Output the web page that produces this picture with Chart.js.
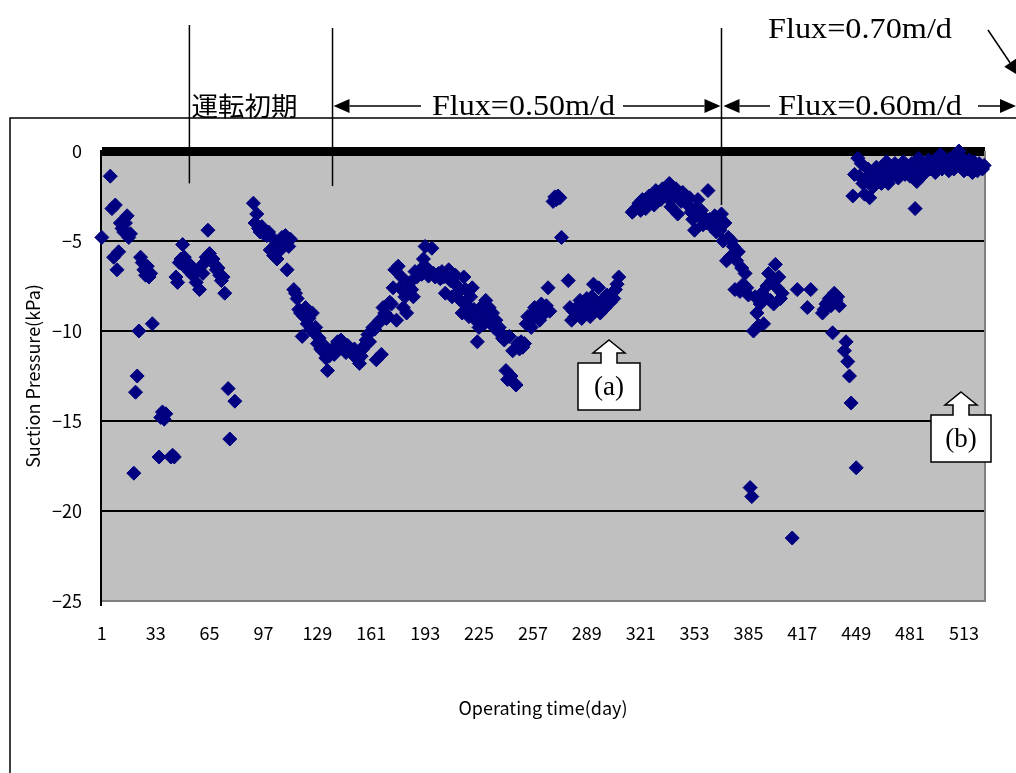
<!DOCTYPE html>
<html>
<head>
<meta charset="utf-8">
<script src="https://cdn.jsdelivr.net/npm/chart.js@4.4.0/dist/chart.umd.min.js"></script>
<style>
  body { margin: 0; background: #fff; }
  canvas { display: block; }
</style>
</head>
<body>
<canvas id="chart" width="1016" height="773"></canvas>
<script>
// 運転初期 (day 1 - 137)
const initialDays = [
    1, 6, 7, 8, 9, 10, 11, 12, 13, 14,
    15, 16, 17, 18, 20, 21, 22, 23, 24, 25,
    26, 27, 28, 29, 30, 31, 35, 36, 37, 38,
    39, 42, 43, 44, 45, 46, 47, 48, 49, 50,
    51, 52, 53, 54, 55, 56, 57, 59, 60, 61,
    62, 63, 64, 65, 66, 67, 68, 69, 70, 71,
    72, 73, 74, 76, 77, 80, 91, 92, 93, 94,
    95, 96, 97, 98, 99, 100, 101, 102, 103, 104,
    105, 106, 107, 108, 109, 110, 111, 112, 113, 115,
    116, 117, 118, 119, 120, 121, 122, 123, 124, 125,
    126, 127, 128, 129, 130, 131, 132, 133, 134, 135,
    136, 137
];
const initialKPa = [
    -4.8, -1.4, -3.2, -5.9, -3.0, -6.6, -5.6, -4.0, -4.3, -4.5,
    -4.0, -3.6, -4.8, -4.6, -17.9, -13.4, -12.5, -10.0, -5.9, -6.2,
    -6.6, -6.9, -6.4, -7.0, -6.8, -9.6, -17.0, -14.8, -14.5, -14.9,
    -14.6, -17.0, -16.9, -17.0, -7.0, -7.3, -6.2, -6.0, -5.2, -5.9,
    -6.5, -6.2, -6.7, -6.4, -6.9, -6.8, -7.3, -7.7, -6.4, -6.8,
    -6.2, -5.9, -4.4, -5.7, -6.1, -6.0, -6.3, -6.6, -6.5, -6.9,
    -7.2, -7.0, -7.9, -13.2, -16.0, -13.9, -2.9, -4.0, -3.5, -4.3,
    -4.5, -4.2, -4.6, -4.4, -4.7, -4.5, -5.5, -4.8, -5.8, -5.6,
    -6.0, -5.2, -5.5, -4.8, -5.0, -4.7, -6.6, -5.3, -4.9, -7.7,
    -7.9, -8.2, -8.8, -9.0, -10.3, -9.2, -8.7, -9.6, -9.3, -9.9,
    -9.0, -10.1, -9.8, -10.7, -10.4, -11.0, -11.1, -10.8, -11.5, -12.2,
    -11.4, -11.2
];

// Flux=0.50m/d (day 138 - 368)
const flux50Days = [
    138, 139, 140, 141, 142, 143, 144, 145, 146, 147,
    148, 149, 150, 151, 152, 153, 154, 155, 156, 157,
    158, 159, 160, 161, 162, 163, 164, 165, 166, 167,
    168, 169, 170, 171, 172, 173, 174, 175, 176, 177,
    178, 179, 180, 181, 182, 183, 184, 185, 186, 187,
    188, 189, 190, 191, 192, 193, 194, 195, 196, 197,
    198, 199, 200, 201, 202, 203, 204, 205, 206, 207,
    208, 209, 210, 211, 212, 213, 214, 215, 216, 217,
    218, 219, 220, 221, 222, 223, 224, 225, 226, 227,
    228, 229, 230, 231, 232, 233, 234, 235, 236, 237,
    238, 239, 240, 241, 242, 243, 244, 245, 246, 247,
    248, 249, 250, 251, 252, 253, 254, 255, 256, 257,
    258, 259, 260, 261, 262, 263, 264, 265, 266, 267,
    269, 270, 271, 272, 273, 274,
    278, 279, 280, 281, 282, 283, 284, 285, 286, 287,
    288, 289, 290, 291, 292, 293, 294, 295, 296, 297,
    298, 299, 300, 301, 302, 303, 304, 305, 306, 307, 308,
    316, 317, 318, 319, 320, 321, 322, 323, 324, 325,
    326, 327, 328, 329, 330, 331, 332, 333, 334, 335,
    336, 337, 338, 339, 340, 341, 342, 343, 344, 345,
    346, 347, 348, 349, 350, 351, 352, 353, 354, 355,
    356, 357, 358, 359, 360, 361, 362, 363, 364, 365,
    366, 367, 368
];
const flux50KPa = [
    -11.0, -11.3, -10.9, -10.6, -10.8, -10.5, -10.7, -10.9, -11.2, -10.8,
    -11.0, -11.1, -11.3, -11.0, -11.5, -11.6, -11.8, -11.4, -11.0, -10.8,
    -10.5, -10.2, -10.6, -10.0, -9.8, -9.9, -11.6, -9.6, -9.4, -11.3,
    -8.7, -9.0, -9.3, -9.2, -8.4, -8.5, -7.6, -6.6, -9.4, -6.4,
    -7.6, -7.0, -8.7, -8.1, -9.0, -7.5, -7.3, -7.7, -8.1, -6.7,
    -7.0, -6.9, -6.6, -6.85, -6.0, -5.3, -6.5, -6.95, -6.7, -5.4,
    -6.8, -7.0, -6.9, -6.8, -7.1, -6.7, -7.0, -7.9, -6.8, -6.6,
    -7.2, -8.1, -7.3, -6.9, -7.5, -7.8, -8.3, -9.0, -7.0, -7.7,
    -8.6, -9.2, -8.1, -7.6, -8.8, -9.4, -10.6, -9.8, -9.0, -8.6,
    -9.6, -8.3, -9.1, -8.7, -9.5, -9.0, -9.8, -9.4, -10.0, -9.8,
    -10.1, -10.4, -10.5, -12.2, -12.7, -10.3, -12.5, -11.1, -12.9, -13.0,
    -10.7, -11.0, -10.6, -10.9, -10.7, -9.6, -9.2, -9.5, -9.8, -9.0,
    -8.7, -9.2, -8.9, -9.4, -8.5, -8.8, -9.0, -8.6, -7.6, -8.9,
    -2.8, -2.55, -2.7, -2.5, -2.6, -4.8,
    -7.2, -8.7, -9.4, -8.9, -9.2, -8.7, -9.0, -8.3, -9.3, -8.6,
    -8.9, -8.2, -8.5, -9.2, -8.1, -7.4, -8.8, -8.4, -7.6, -9.0,
    -8.3, -8.6, -8.7, -8.0, -8.1, -8.4, -7.9, -8.2, -7.7, -7.4, -7.0,
    -3.4, -3.3, -3.2, -3.1, -2.9, -3.3, -2.7, -2.9, -3.2, -2.6,
    -2.5, -2.8, -2.4, -3.0, -2.2, -2.5, -2.3, -2.7, -2.1, -2.4,
    -2.2, -2.6, -1.8, -3.1, -2.3, -2.5, -2.1, -3.5, -2.4, -2.8,
    -2.3, -2.7, -2.5, -3.0, -2.6, -3.4, -3.8, -4.4, -3.2, -2.7,
    -3.6, -3.3, -4.1, -3.7, -4.0, -2.2, -3.8, -4.2, -3.9, -3.6,
    -4.5, -4.1, -4.4
];

// Flux=0.60m/d (day 369 - 525)
const flux60Days = [
    369, 370, 371, 372, 373, 374, 375, 376, 377, 378,
    379, 380, 381, 382, 383, 384, 385, 386, 387, 388,
    389, 390, 391, 392, 393, 394, 395, 396, 397, 398,
    399, 400, 401, 402, 403, 404, 405,
    411, 414, 420, 422,
    429, 430, 431, 432, 433, 434, 435, 436, 437, 438, 439,
    442, 443, 444, 445, 446, 447, 448, 449, 450, 451,
    452, 453, 454, 455, 456, 457, 458, 459, 460, 461,
    462, 463, 464, 465, 466, 467, 468, 469, 470, 471,
    472, 473, 474, 475, 476, 477, 478, 479, 480, 481,
    482, 483, 484, 485, 486, 487, 488, 489, 490, 491,
    492, 493, 494, 495, 496, 497, 498, 499, 500, 501,
    502, 503, 504, 505, 506, 507, 508, 509, 510, 511,
    512, 513, 514, 515, 516, 517, 518, 519, 520, 521,
    522, 523, 524, 525
];
const flux60KPa = [
    -3.5, -5.0, -4.0, -6.1, -4.8, -5.9, -5.0, -5.3, -7.7, -6.1,
    -5.6, -7.8, -6.5, -7.4, -6.8, -7.6, -8.0, -18.7, -19.2, -10.0,
    -8.1, -9.0, -9.7, -8.5, -7.9, -9.6, -8.1, -7.5, -6.8, -8.3,
    -7.2, -8.5, -6.3, -7.6, -7.0, -8.2, -7.9,
    -21.5, -7.7, -8.7, -7.7,
    -9.0, -8.8, -8.5, -8.4, -8.2, -8.6, -10.1, -7.9, -8.3, -8.1, -8.6,
    -11.1, -10.6, -11.7, -12.5, -14.0, -2.5, -1.3, -17.6, -0.4, -1.4,
    -0.7, -1.8, -2.4, -1.5, -1.0, -2.6, -1.6, -2.0, -1.3, -0.9,
    -1.5, -1.1, -1.8, -0.8, -1.3, -0.6, -1.8, -1.0, -1.4, -0.9,
    -0.7, -1.2, -1.5, -0.9, -1.1, -0.6, -1.3, -0.8, -1.0, -1.4,
    -0.7, -1.2, -3.2, -1.7, -0.4, -1.0, -0.6, -1.3, -1.1, -0.8,
    -0.5, -1.0, -0.6, -0.9, -1.2, -0.4, -0.7, -0.2, -1.0, -0.6,
    -0.5, -0.9, -1.1, -0.4, -0.8, -1.0, -0.3, -0.6, 0.0, -0.7,
    -0.4, -1.1, -0.9, -1.0, -0.5, -0.8, -1.2, -0.6, -0.9, -1.1,
    -0.7, -0.9, -1.0, -0.8
];

// Axes
const tickDays = [1, 33, 65, 97, 129, 161, 193, 225, 257, 289, 321, 353, 385, 417, 449, 481, 513];
const pressureTicks = [0, -5, -10, -15, -20, -25];
// 期間の区切り (day)
const boundaryDays = [53, 138, 369];

const NAVY = '#000080';

function toPoints(days, values) {
    return days.map((d, i) => ({ x: d, y: values[i] }));
}

// 矢印 (x2,y2 に頭)
function arrow(ctx, x1, y1, x2, y2) {
    const ang = Math.atan2(y2 - y1, x2 - x1);
    const len = 16, half = 7;
    const bx = x2 - len * Math.cos(ang), by = y2 - len * Math.sin(ang);
    ctx.beginPath();
    ctx.moveTo(x1, y1);
    ctx.lineTo(bx, by);
    ctx.stroke();
    ctx.beginPath();
    ctx.moveTo(x2, y2);
    ctx.lineTo(bx + half * Math.sin(ang), by - half * Math.cos(ang));
    ctx.lineTo(bx - half * Math.sin(ang), by + half * Math.cos(ang));
    ctx.closePath();
    ctx.fill();
}

// 横に伸ばした文字
function stretchText(ctx, text, left, baseline, width, font) {
    ctx.save();
    ctx.font = font;
    const w = ctx.measureText(text).width;
    ctx.translate(left, baseline);
    ctx.scale(width / w, 1);
    ctx.fillText(text, 0, 0);
    ctx.restore();
}

// 上向き矢印付きの吹き出し
function callout(ctx, label, cx, tipY, boxTop, boxBottom, halfW) {
    ctx.save();
    ctx.fillStyle = '#fff';
    ctx.strokeStyle = '#000';
    ctx.lineWidth = 1.5;
    const headY = tipY + 13;
    ctx.beginPath();
    ctx.moveTo(cx, tipY);
    ctx.lineTo(cx + 16, headY);
    ctx.lineTo(cx + 8, headY);
    ctx.lineTo(cx + 8, boxTop);
    ctx.lineTo(cx + halfW, boxTop);
    ctx.lineTo(cx + halfW, boxBottom);
    ctx.lineTo(cx - halfW, boxBottom);
    ctx.lineTo(cx - halfW, boxTop);
    ctx.lineTo(cx - 8, boxTop);
    ctx.lineTo(cx - 8, headY);
    ctx.lineTo(cx - 16, headY);
    ctx.closePath();
    ctx.fill();
    ctx.stroke();
    ctx.fillStyle = '#000';
    ctx.font = '27px "Liberation Serif", serif';
    ctx.textAlign = 'center';
    ctx.textBaseline = 'middle';
    ctx.fillText(label, cx, (boxTop + boxBottom) / 2 + 1);
    ctx.restore();
}

const annotations = {
    id: 'annotations',
    beforeDraw(chart) {
        const { ctx, chartArea: a } = chart;
        ctx.save();
        ctx.fillStyle = '#c0c0c0';
        ctx.fillRect(a.left, a.top, a.right - a.left, a.bottom - a.top);
        // グラフの外枠
        ctx.strokeStyle = '#000';
        ctx.lineWidth = 1.5;
        ctx.beginPath();
        ctx.moveTo(10, 780);
        ctx.lineTo(10, 118);
        ctx.lineTo(1020, 118);
        ctx.stroke();
        ctx.restore();
    },
    beforeDatasetsDraw(chart) {
        const { ctx, chartArea: a } = chart;
        ctx.save();
        ctx.strokeStyle = '#808080';
        ctx.lineWidth = 2;
        ctx.beginPath();
        ctx.moveTo(a.right, a.top);
        ctx.lineTo(a.right, a.bottom);
        ctx.stroke();
        ctx.restore();
    },
    afterDraw(chart) {
        const { ctx } = chart;
        const xs = chart.scales.x;
        const ys = chart.scales.y;
        const bx = boundaryDays.map(d => xs.getPixelForValue(d));
        ctx.save();
        ctx.strokeStyle = '#000';
        ctx.fillStyle = '#000';
        ctx.lineWidth = 1.5;

        // 区切り線
        const lineEnds = [[25, ys.getPixelForValue(-1.8)], [28, ys.getPixelForValue(-1.95)], [28, ys.getPixelForValue(-3.0)]];
        bx.forEach((x, i) => {
            ctx.beginPath();
            ctx.moveTo(x, lineEnds[i][0]);
            ctx.lineTo(x, lineEnds[i][1]);
            ctx.stroke();
        });

        // 文字
        stretchText(ctx, '運転初期', bx[0] + 2, 116, 106, '26px "Noto Sans CJK JP", sans-serif');
        const serif = '30px "Liberation Serif", serif';
        stretchText(ctx, 'Flux=0.50m/d', 432, 115, 183, serif);
        stretchText(ctx, 'Flux=0.60m/d', 778, 115, 184, serif);
        stretchText(ctx, 'Flux=0.70m/d', 768, 38, 184, serif);

        // 矢印
        const ay = 106;
        arrow(ctx, 421, ay, bx[1] + 1, ay);
        arrow(ctx, 623, ay, bx[2] - 1, ay);
        arrow(ctx, 770, ay, bx[2] + 2, ay);
        arrow(ctx, 978, ay, 1016, ay);
        arrow(ctx, 988, 30, 1019, 76);

        // 吹き出し (a) (b)
        callout(ctx, '(a)', 609, 340, 363, 410, 31);
        callout(ctx, '(b)', 961, 392, 415, 462, 30);
        ctx.restore();
    }
};

Chart.defaults.font.family = '"Noto Sans CJK JP", "Noto Sans", sans-serif';
Chart.defaults.font.size = 18;
Chart.defaults.color = '#000';

const pointStyle = {
    showLine: false,
    pointStyle: 'rectRot',
    pointRadius: 7,
    pointBorderWidth: 1,
    backgroundColor: NAVY,
    borderColor: NAVY,
    clip: false,
};

new Chart(document.getElementById('chart'), {
    type: 'scatter',
    data: {
        datasets: [
            { label: '運転初期', data: toPoints(initialDays, initialKPa), ...pointStyle },
            { label: 'Flux=0.50m/d', data: toPoints(flux50Days, flux50KPa), ...pointStyle },
            { label: 'Flux=0.60m/d', data: toPoints(flux60Days, flux60KPa), ...pointStyle },
        ],
    },
    options: {
        responsive: false,
        animation: false,
        events: [],
        layout: { padding: { left: 0, top: 151, right: 31, bottom: 0 } },
        plugins: {
            legend: { display: false },
            tooltip: { enabled: false },
        },
        scales: {
            x: {
                type: 'linear',
                min: 0.5,
                max: 525.5,
                afterBuildTicks: (scale) => { scale.ticks = tickDays.map(v => ({ value: v })); },
                afterFit: (scale) => { scale.height = 172; },
                ticks: {
                    autoSkip: false,
                    maxRotation: 0,
                    padding: 21,
                    callback: (v) => String(v),
                },
                grid: { color: 'rgba(0,0,0,0)', drawTicks: false },
                border: { color: '#808080', width: 2 },
                title: {
                    display: true,
                    text: 'Operating time(day)',
                    padding: { top: 0, bottom: 54 },
                },
            },
            y: {
                type: 'linear',
                min: -25,
                max: 0,
                afterBuildTicks: (scale) => { scale.ticks = pressureTicks.map(v => ({ value: v })); },
                afterFit: (scale) => { scale.width = 101; },
                ticks: {
                    padding: 19,
                    callback: (v) => (v < 0 ? '−' + Math.abs(v) : String(v)),
                },
                grid: {
                    drawTicks: false,
                    color: (c) => (c.tick && c.tick.value === -25 ? 'rgba(0,0,0,0)' : '#000'),
                    lineWidth: (c) => (c.tick && c.tick.value === 0 ? 9 : 2),
                },
                border: { color: '#000', width: 2 },
                title: {
                    display: true,
                    text: 'Suction Pressure(kPa)',
                    padding: { top: 22, bottom: 0 },
                },
            },
        },
    },
    plugins: [annotations],
});
</script>
</body>
</html>
